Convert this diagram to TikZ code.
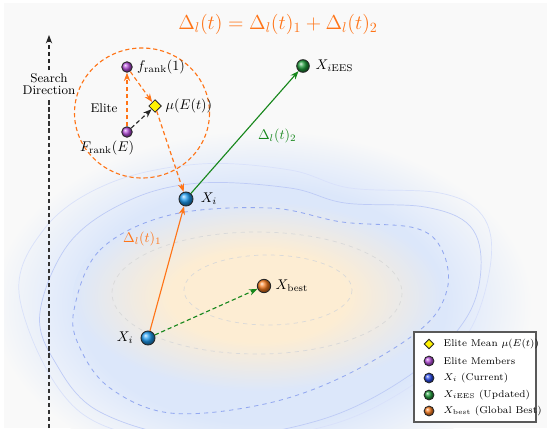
\documentclass[tikz,border=0pt]{standalone}
\usepackage{amsmath}
\usepackage{tikz}
\usetikzlibrary{positioning,arrows.meta,shapes.geometric}
\definecolor{bgGray}{HTML}{F9F9F9}
\definecolor{glowBlue}{HTML}{DCE7FA}
\definecolor{glowOrange}{HTML}{FDEDD3}
\definecolor{deltaOrange}{HTML}{FF7417}
\definecolor{pathGreen}{HTML}{17871C}
\definecolor{ballBlue}{HTML}{1E9BEF}
\definecolor{legendBlue}{HTML}{2547E6}
\definecolor{ballViolet}{HTML}{B24BD8}
\definecolor{ballGreen}{HTML}{1F9A3A}
\definecolor{ballOrange}{HTML}{F57A1E}
\definecolor{contourBlue}{HTML}{93A8F0}
\pgfdeclareradialshading{blueGlow}{\pgfpointorigin}{color(0bp)=(glowBlue); color(17bp)=(glowBlue); color(21.5bp)=(glowBlue!45!bgGray); color(25bp)=(bgGray); color(50bp)=(bgGray)}
\pgfdeclareradialshading{orangeGlow}{\pgfpointorigin}{color(0bp)=(glowOrange); color(12bp)=(glowOrange); color(25bp)=(glowBlue); color(50bp)=(glowBlue)}
\tikzstyle{diagram} = [x = 0.025cm, y = -0.025cm]
\tikzstyle{ballNode} = [circle, draw=black!85, line width=0.6pt, inner sep=0pt, minimum size=10pt]
\tikzstyle{eliteBall} = [ballNode, ball color=ballViolet, minimum size=7.5pt]
\tikzstyle{meanDiamond} = [diamond, draw=black!85, fill=yellow, line width=0.6pt, inner sep=0pt, minimum size=9pt]
\tikzstyle{pointLabel} = [font=\normalsize, inner sep=1pt]
\tikzstyle{tipStyle} = [-{Stealth[length=6pt, width=4.5pt]}]
\tikzstyle{orangeArrow} = [tipStyle, color=deltaOrange, line width=0.8pt]
\tikzstyle{orangeDashArrow} = [orangeArrow, dash pattern=on 3pt off 2pt]
\tikzstyle{blackDashArrow} = [tipStyle, color=black!85, line width=0.8pt, dash pattern=on 3pt off 2pt]
\tikzstyle{greenArrow} = [tipStyle, color=pathGreen, line width=0.8pt]
\tikzstyle{greenDashArrow} = [greenArrow, dash pattern=on 3pt off 2pt]
\tikzstyle{outerContour} = [draw=contourBlue!35, line width=0.5pt]
\tikzstyle{levelContour} = [draw=contourBlue!60, line width=0.5pt]
\tikzstyle{dashedContour} = [draw=contourBlue, dashed, line width=0.6pt]
\tikzstyle{coreContour} = [draw=black!15, dashed, line width=0.5pt]
\tikzstyle{legendFrame} = [draw=black!65, fill=white, line width=0.8pt]
\tikzstyle{legendText} = [font=\scriptsize, anchor=west, inner sep=1pt]
\newcommand{\legendEntry}[4]{\node[#2] (#1) at (429,#3) {}; \node[legendText] (#1Text) at (442,#3) {#4};}

\begin{document}
\begin{tikzpicture}[diagram]
\useasboundingbox (0,0) rectangle (550,434);
\fill[bgGray] (4,3) rectangle (547,428);
\begin{scope}
  \clip (4,3) rectangle (547,428);
  \shade[shading=blueGlow] (262,305) ellipse (270 and 175);
  \shade[shading=orangeGlow] (258,296) ellipse (185 and 95);
  \draw[outerContour] plot[smooth cycle, tension=0.6] coordinates {(20,300) (45,228) (110,183) (200,164) (290,170) (350,188) (440,193) (482,215) (491,260) (470,330) (420,380) (330,425) (200,442) (80,412)};
  \draw[levelContour] plot[smooth cycle, tension=0.6] coordinates {(40,312) (70,242) (130,200) (200,183) (290,188) (345,203) (425,207) (470,226) (481,268) (465,320) (410,375) (320,420) (200,438) (100,412) (55,362)};
  \draw[dashedContour] plot[smooth cycle, tension=0.6] coordinates {(74,310) (100,250) (170,215) (270,208) (342,222) (415,228) (442,250) (447,290) (420,330) (340,378) (260,405) (170,413) (110,388) (80,348)};
  \draw[coreContour] (257,293) ellipse (145 and 61);
  \draw[coreContour] (268,290) ellipse (84 and 35);
\end{scope}

\node[font=\Large, text=deltaOrange] (title) at (278,24) {$\Delta_l(t) = \Delta_l(t)_1 + \Delta_l(t)_2$};

\coordinate (searchBottom) at (49,428);
\coordinate (searchTop) at (49,35);
\node[font=\small, align=center, fill=bgGray, inner sep=2pt] (searchLabel) at (49,84) {Search\\[-2pt]Direction};
\draw[color=black!80, line width=0.8pt, dash pattern=on 3pt off 2pt] (searchBottom) -- (searchLabel.south);
\draw[blackDashArrow] (searchLabel.north) -- (searchTop);

\draw[deltaOrange, line width=0.8pt, dash pattern=on 3pt off 2pt] (142,113) ellipse (67.5 and 65);
\node[font=\small] (eliteLabel) at (104,108) {Elite};
\node[eliteBall] (fRankOne) at (127,67) {};
\node[pointLabel, right=2pt of fRankOne] (fRankOneLabel) {$f_{\mathrm{rank}}(1)$};
\node[meanDiamond] (eliteMean) at (155,106) {};
\node[pointLabel, right=1.5pt of eliteMean] (eliteMeanLabel) {$\mu(E(t))$};
\node[eliteBall] (fRankLast) at (127,132) {};
\node[pointLabel] (fRankLastLabel) at (107,148) {$F_{\mathrm{rank}}(E)$};

\node[ballNode, ball color=ballBlue] (xiUpper) at (186,199) {};
\node[pointLabel, right=4pt of xiUpper] (xiUpperLabel) {$X_i$};
\node[ballNode, ball color=ballBlue] (xiLower) at (148,338) {};
\node[pointLabel, left=4pt of xiLower] (xiLowerLabel) {$X_i$};
\node[ballNode, ball color=ballGreen, minimum size=9pt] (xiNew) at (303,66) {};
\node[pointLabel, right=3pt of xiNew] (xiNewLabel) {$X_{i\mathrm{EES}}$};
\node[ballNode, ball color=ballOrange, minimum size=9.5pt] (xBest) at (264,286) {};
\node[pointLabel, right=2pt of xBest] (xBestLabel) {$X_{\mathrm{best}}$};

\draw[orangeDashArrow] (fRankLast) -- (fRankOne);
\draw[orangeDashArrow] (fRankOne) -- (eliteMean);
\draw[blackDashArrow] (fRankLast) -- (eliteMean);
\draw[orangeDashArrow] (eliteMean) -- (xiUpper);
\draw[orangeArrow] (xiLower) -- node[pos=0.74, left=6pt, text=deltaOrange] (deltaOne) {$\Delta_l(t)_1$} (xiUpper);
\draw[greenArrow] (xiUpper) -- node[pos=0.47, right=8pt, text=pathGreen] (deltaTwo) {$\Delta_l(t)_2$} (xiNew);
\draw[greenDashArrow] (xiLower) -- (xBest);

\draw[legendFrame] (414,332) rectangle (536,422);
\legendEntry{legendMean}{meanDiamond, minimum size=7pt}{344}{Elite Mean $\mu(E(t))$}
\legendEntry{legendElite}{ballNode, ball color=ballViolet, minimum size=7pt}{361}{Elite Members}
\legendEntry{legendCurrent}{ballNode, ball color=legendBlue, minimum size=7pt}{378}{$X_i$ (Current)}
\legendEntry{legendUpdated}{ballNode, ball color=ballGreen, minimum size=7pt}{395}{$X_{i\mathrm{EES}}$ (Updated)}
\legendEntry{legendBest}{ballNode, ball color=ballOrange, minimum size=7pt}{411}{$X_{\mathrm{best}}$ (Global Best)}
\end{tikzpicture}
\end{document}
